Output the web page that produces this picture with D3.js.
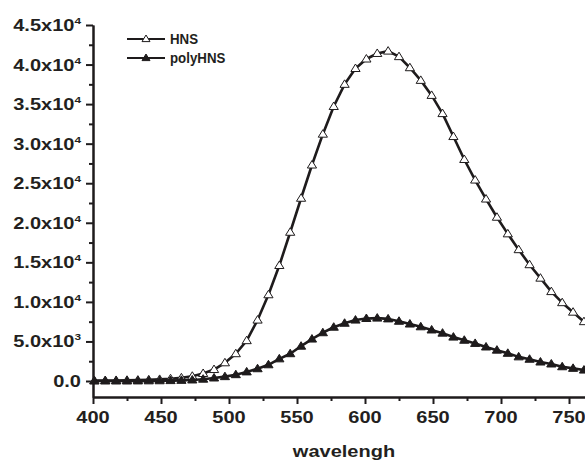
<!DOCTYPE html>
<html>
<head>
<meta charset="utf-8">
<script src="https://cdn.jsdelivr.net/npm/d3@7/dist/d3.min.js"></script>
<style>
  html, body { margin: 0; padding: 0; background: #fff; overflow: hidden; }
  svg { display: block; }
  text { font-family: "Liberation Sans", Arial, sans-serif; font-weight: bold; fill: #231f20; }
</style>
</head>
<body>
<svg id="chart" width="585" height="461"></svg>
<script>
// ---- data ----
const wavelengths = [401, 409, 417, 425, 433, 441, 449, 457, 465, 473, 481, 489, 497, 505, 513, 521, 529, 537, 545, 553,
                     561, 569, 577, 585, 593, 601, 609, 617, 625, 633, 641, 649, 657, 665, 673, 681, 689, 697, 705, 713,
                     721, 729, 737, 745, 753, 761];
const hnsValues = [50, 60, 70, 90, 110, 150, 200, 280, 400, 600, 950, 1450, 2300, 3450, 5100, 7700, 10900, 14600, 18800, 23100,
                   27300, 31200, 34700, 37500, 39500, 40700, 41400, 41700, 41000, 39600, 38000, 36100, 33800, 30900, 28000, 25400, 23000, 20700, 18600, 16600,
                   14700, 13000, 11300, 9900, 8700, 7500];
const polyHnsValues = [0, 0, 0, 0, 10, 20, 30, 50, 80, 130, 230, 380, 550, 800, 1150, 1550, 2050, 2800, 3450, 4400,
                       5300, 6100, 6800, 7300, 7700, 7900, 7950, 7850, 7550, 7200, 6850, 6450, 6050, 5550, 5150, 4750, 4300, 3900, 3500, 3050,
                       2750, 2400, 2150, 1800, 1600, 1380];
const seriesNames = ["HNS", "polyHNS"];
const yTicks = [0, 5000, 10000, 15000, 20000, 25000, 30000, 35000, 40000, 45000];
const yTickLabels = ["0.0", "5.0x10^3", "1.0x10^4", "1.5x10^4", "2.0x10^4", "2.5x10^4", "3.0x10^4", "3.5x10^4", "4.0x10^4", "4.5x10^4"];
const yMinorTicks = [2500, 7500, 12500, 17500, 22500, 27500, 32500, 37500, 42500];
const xTicks = [400, 450, 500, 550, 600, 650, 700, 750];
const xTickLabels = ["400", "450", "500", "550", "600", "650", "700", "750"];
const xMinorTicks = [425, 475, 525, 575, 625, 675, 725];
const xTitle = "wavelengh";

// ---- layout ----
const svg = d3.select("#chart");
const plotLeft = 93, plotRight = 585, plotTop = 25, plotBottom = 397;
const ink = "#1e1b1c";
const SX = 1.25; // horizontal stretch of text

const x = d3.scaleLinear().domain([400, 761.76]).range([plotLeft, plotRight]);
const y = d3.scaleLinear().domain([-2022, 45000]).range([plotBottom, plotTop]);

// axes
function styleAxis(g) {
  g.selectAll("path, line").attr("stroke", ink).attr("stroke-width", 2);
  g.selectAll("text").remove();
}
svg.append("g").attr("transform", `translate(${plotLeft},0)`)
  .call(d3.axisLeft(y).tickValues(yMinorTicks).tickSize(4).tickSizeOuter(0).tickFormat(""))
  .call(styleAxis);
svg.append("g").attr("transform", `translate(${plotLeft},0)`)
  .call(d3.axisLeft(y).tickValues(yTicks).tickSize(7).tickSizeOuter(0).tickFormat(""))
  .call(styleAxis);
svg.append("g").attr("transform", `translate(0,${plotBottom})`)
  .call(d3.axisBottom(x).tickValues(xMinorTicks).tickSize(4).tickSizeOuter(0).tickFormat(""))
  .call(styleAxis);
svg.append("g").attr("transform", `translate(0,${plotBottom})`)
  .call(d3.axisBottom(x).tickValues(xTicks).tickSize(7).tickSizeOuter(0).tickFormat(""))
  .call(styleAxis);

// y tick labels
yTicks.forEach((v, i) => {
  const parts = yTickLabels[i].split("^");
  const t = svg.append("text")
    .attr("transform", `translate(81,${y(v) + 6}) scale(${SX},1)`)
    .attr("text-anchor", "end")
    .style("font-size", "16px");
  t.append("tspan").text(parts[0]);
  if (parts[1]) {
    t.append("tspan").attr("dy", -7).style("font-size", "9.5px").text(parts[1]);
  }
});

// x tick labels
xTicks.forEach((v, i) => {
  svg.append("text")
    .attr("transform", `translate(${x(v)},${plotBottom + 26}) scale(${SX},1)`)
    .attr("text-anchor", "middle")
    .style("font-size", "16px")
    .text(xTickLabels[i]);
});

// x title
svg.append("text")
  .attr("transform", `translate(344,457) scale(${SX},1)`)
  .attr("text-anchor", "middle")
  .style("font-size", "16px")
  .text(xTitle);

// series
const tri = "M0,-4.5L4.6,3L-4.6,3Z";
const series = [
  { name: seriesNames[0], values: hnsValues, fill: "#ffffff" },
  { name: seriesNames[1], values: polyHnsValues, fill: ink }
];
const line = d3.line().x(d => x(d[0])).y(d => y(d[1])).curve(d3.curveLinear);

series.forEach(s => {
  const pts = wavelengths.map((w, i) => [w, s.values[i]]);
  svg.append("path").datum(pts)
    .attr("d", line)
    .attr("fill", "none")
    .attr("stroke", ink)
    .attr("stroke-width", 2.6)
    .attr("stroke-linejoin", "round");
  svg.append("g").selectAll("path").data(pts).join("path")
    .attr("d", tri)
    .attr("transform", d => `translate(${x(d[0])},${y(d[1])})`)
    .attr("fill", s.fill)
    .attr("stroke", ink)
    .attr("stroke-width", 1);
});

// legend
const legendRows = [39, 58];
series.forEach((s, i) => {
  const ly = legendRows[i];
  svg.append("line")
    .attr("x1", 127).attr("x2", 165).attr("y1", ly).attr("y2", ly)
    .attr("stroke", ink).attr("stroke-width", 2.2);
  svg.append("path")
    .attr("d", "M0,-4L4,2.6L-4,2.6Z")
    .attr("transform", `translate(146,${ly})`)
    .attr("fill", s.fill).attr("stroke", ink).attr("stroke-width", 1);
  svg.append("text")
    .attr("transform", `translate(170,${ly + 5}) scale(0.95,1)`)
    .style("font-size", "14px")
    .text(s.name);
});
</script>
</body>
</html>
